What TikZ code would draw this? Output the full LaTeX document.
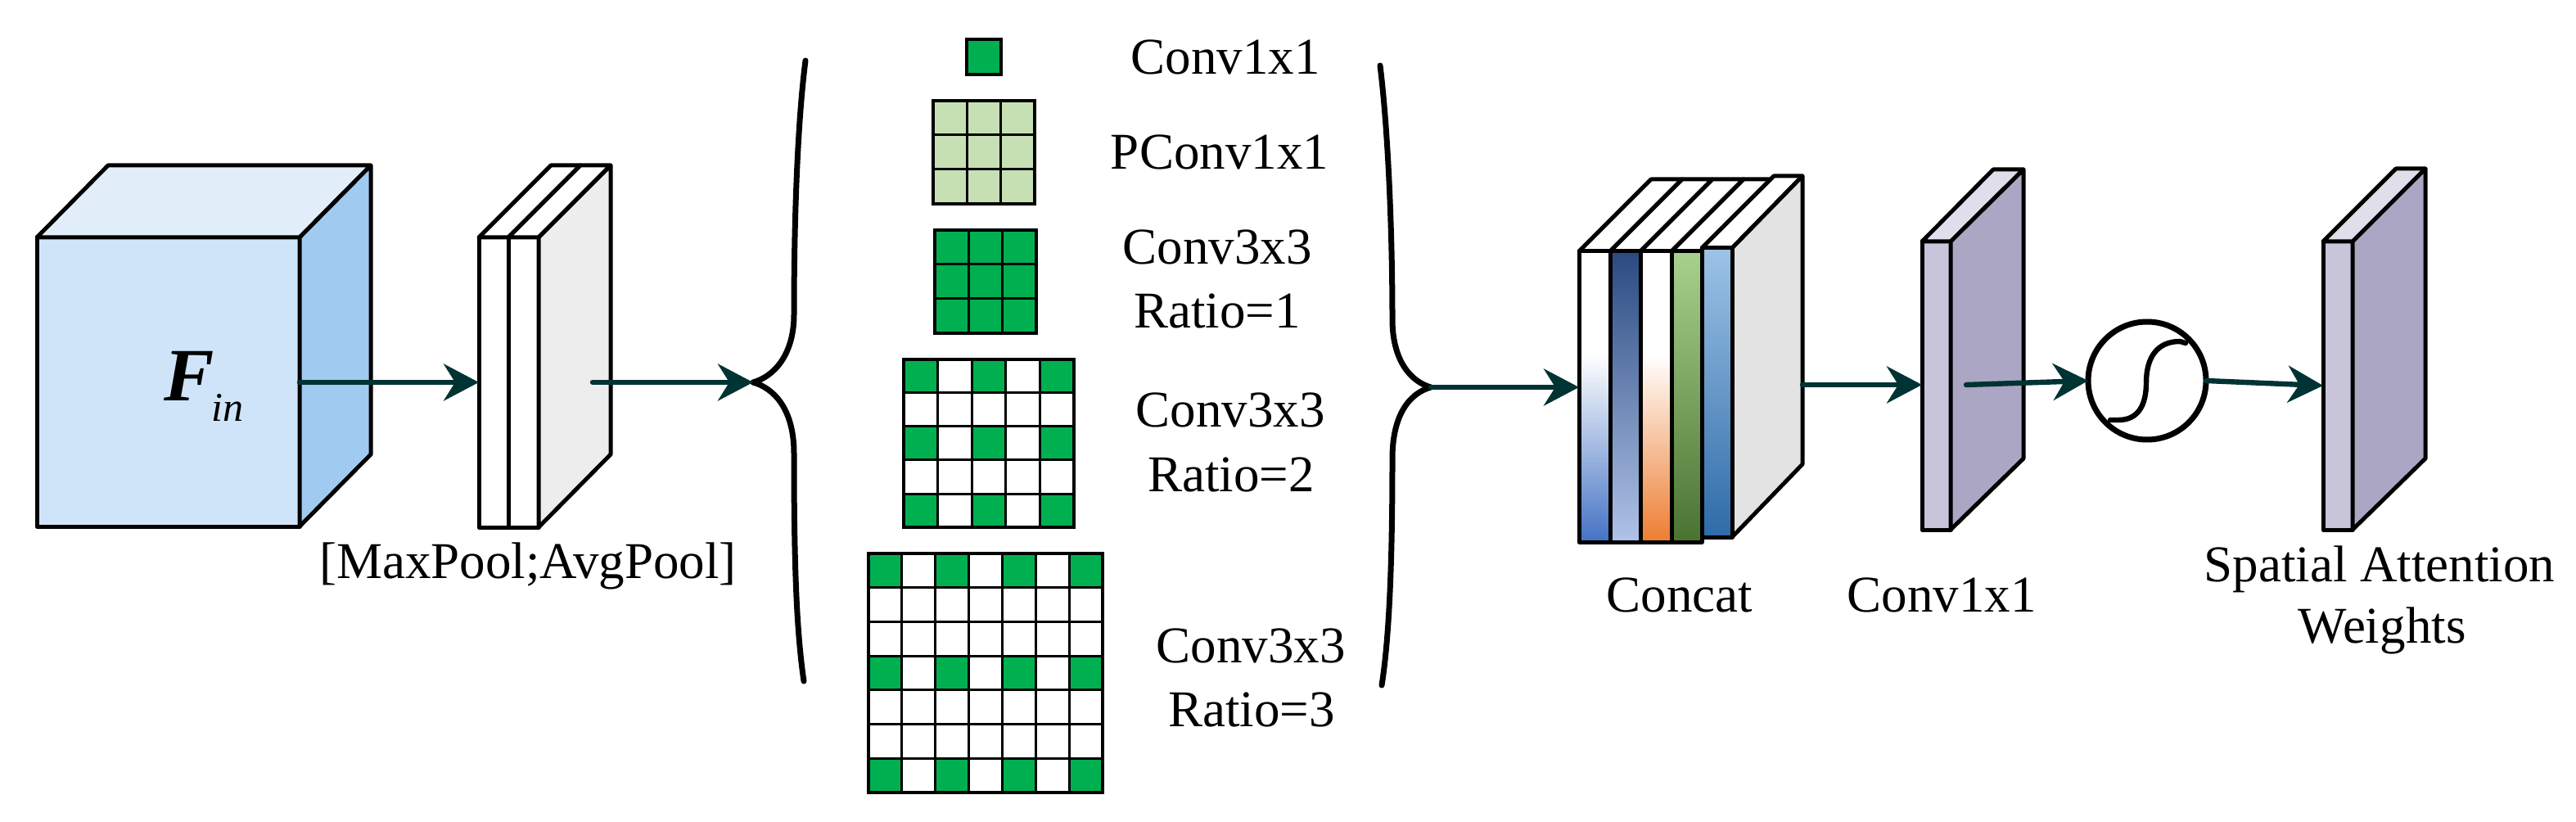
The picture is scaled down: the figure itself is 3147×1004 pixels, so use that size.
\documentclass[tikz,border=0pt]{standalone}
\usepackage{fontspec}
\setmainfont{Liberation Serif}
\usetikzlibrary{arrows.meta}
\definecolor{arrowc}{RGB}{0,51,51}
\definecolor{cubefront}{HTML}{CFE4F8}
\definecolor{cubetop}{HTML}{E1EEFA}
\definecolor{cuberight}{HTML}{A1CAF0}
\definecolor{slabside}{HTML}{EDEDED}
\definecolor{purp}{HTML}{9479C5}
\definecolor{gblue}{HTML}{8EA6B1}
\definecolor{catside}{HTML}{E3E3E3}
\definecolor{lavfront}{HTML}{C8C4DA}
\definecolor{lavright}{HTML}{ABA6C4}
\definecolor{lavtop}{HTML}{E0DEEA}
\definecolor{convgreen}{HTML}{00B050}
\definecolor{lightgreen}{HTML}{C6E0B4}
\definecolor{laya}{HTML}{4472C4}
\definecolor{laybtop}{HTML}{2A4A80}
\definecolor{laybmid}{HTML}{4C78C8}
\definecolor{laybbot}{HTML}{B0C3E8}
\definecolor{layc}{HTML}{ED7D31}
\definecolor{laydtop}{HTML}{A9D18E}
\definecolor{laydmid}{HTML}{76B04A}
\definecolor{laydbot}{HTML}{4A7230}
\definecolor{layetop}{HTML}{9DC3E6}
\definecolor{layemid}{HTML}{5E9DD6}
\definecolor{layebot}{HTML}{2E6BA8}
\begin{document}
\begin{tikzpicture}[x=0.25pt,y=-0.25pt,
  edge/.style={draw=black,line width=1.25pt,line join=round},
  conn/.style={draw=arrowc,line width=1.6pt,line cap=round,-{Stealth[length=10.75pt,width=11.25pt,inset=3.5pt]}},
  cellline/.style={draw=black,line width=0.75pt},
  cellborder/.style={draw=black,line width=0.9pt},
  lbl/.style={anchor=base,inner sep=0pt,font=\fontsize{15.75pt}{19pt}\selectfont},
  bracestyle/.style={draw=black,line width=1.75pt,line cap=round,line join=round}
]
\useasboundingbox (0,0) rectangle (3147,1004);

% ---------- input cube ----------
\filldraw[edge,fill=cubefront] (45,290) rectangle (366,643);
\filldraw[edge,fill=cubetop] (45,290) -- (132,202) -- (453,202) -- (366,290) -- cycle;
\filldraw[edge,fill=cuberight] (366,290) -- (453,202) -- (453,555) -- (366,643) -- cycle;
\node[anchor=base west,inner sep=0pt] (fin) at (200,490)
  {\fontsize{23pt}{26pt}\selectfont\bfseries\itshape F\kern-1pt\raisebox{-6pt}{\fontsize{12.5pt}{14pt}\selectfont\mdseries\itshape in}};

% ---------- pooled slab ----------
\shade[top color=white,middle color=purp,bottom color=white] (585,290) rectangle (621,644);
\shade[top color=white,middle color=gblue,bottom color=white] (621,290) rectangle (658,644);
\draw[edge] (585,290) rectangle (621,644);
\draw[edge] (621,290) rectangle (658,644);
\filldraw[edge,fill=white] (585,290) -- (673,202) -- (709,202) -- (621,290) -- cycle;
\filldraw[edge,fill=white] (621,290) -- (709,202) -- (746,202) -- (658,290) -- cycle;
\filldraw[edge,fill=slabside] (658,290) -- (746,202) -- (746,555) -- (658,644) -- cycle;
\node[lbl] (pooltxt) at (645,706) {[MaxPool;AvgPool]};

% ---------- braces ----------
\coordinate (braceLtip) at (920,467);
\coordinate (braceRtip) at (1748,473);
\draw[bracestyle] (984,74) .. controls (973,160) and (970,290) .. (970,384)
  .. controls (970,434) and (945,460) .. (braceLtip)
  .. controls (945,474) and (970,499) .. (970,554)
  .. controls (970,690) and (973,770) .. (982,832);
\draw[bracestyle] (1686,80) .. controls (1697,170) and (1701,300) .. (1701,390)
  .. controls (1701,440) and (1723,466) .. (braceRtip)
  .. controls (1723,480) and (1701,505) .. (1701,560)
  .. controls (1701,690) and (1697,780) .. (1688,837);

% ---------- kernels ----------
% Conv1x1
\filldraw[cellborder,fill=convgreen] (1181,48) rectangle (1223,91);
% PConv1x1
\fill[lightgreen] (1140,123) rectangle (1264,249);
\foreach \i in {1,2}{
  \draw[cellline] (1140+\i*41.33,123) -- (1140+\i*41.33,249);
  \draw[cellline] (1140,123+\i*42) -- (1264,123+\i*42);}
\draw[cellborder] (1140,123) rectangle (1264,249);
% Conv3x3 ratio 1
\fill[convgreen] (1142,281) rectangle (1266,407);
\foreach \i in {1,2}{
  \draw[cellline] (1142+\i*41.33,281) -- (1142+\i*41.33,407);
  \draw[cellline] (1142,281+\i*42) -- (1266,281+\i*42);}
\draw[cellborder] (1142,281) rectangle (1266,407);
% Conv3x3 ratio 2
\foreach \r in {0,2,4}{\foreach \c in {0,2,4}{
  \fill[convgreen] (1104+\c*41.6,439+\r*41) rectangle ++(41.6,41);}}
\foreach \i in {1,...,4}{
  \draw[cellline] (1104+\i*41.6,439) -- (1104+\i*41.6,644);
  \draw[cellline] (1104,439+\i*41) -- (1312,439+\i*41);}
\draw[cellborder] (1104,439) rectangle (1312,644);
% Conv3x3 ratio 3
\foreach \r in {0,3,6}{\foreach \c in {0,2,4,6}{
  \fill[convgreen] (1061+\c*40.857,676+\r*41.714) rectangle ++(40.857,41.714);}}
\foreach \i in {1,...,6}{
  \draw[cellline] (1061+\i*40.857,676) -- (1061+\i*40.857,968);
  \draw[cellline] (1061,676+\i*41.714) -- (1347,676+\i*41.714);}
\draw[cellborder] (1061,676) rectangle (1347,968);

\node[lbl] (t1) at (1497,91) {Conv1x1};
\node[lbl] (t2) at (1490,207) {PConv1x1};
\node[lbl] (t3a) at (1487,323) {Conv3x3};
\node[lbl] (t3b) at (1487,401) {Ratio=1};
\node[lbl] (t4a) at (1503,522) {Conv3x3};
\node[lbl] (t4b) at (1504,600) {Ratio=2};
\node[lbl] (t5a) at (1528,809) {Conv3x3};
\node[lbl] (t5b) at (1529,887) {Ratio=3};

% ---------- concat block ----------
\foreach \xa/\xb in {1929/1967,1967/2004,2004/2042,2042/2079}{
  \filldraw[edge,fill=white] (\xa,307) -- (\xa+88,219) -- (\xb+88,219) -- (\xb,307) -- cycle;}
\filldraw[edge,fill=white] (2079,303) -- (2167,215) -- (2202,215) -- (2116,303) -- cycle;
\filldraw[edge,fill=catside] (2116,303) -- (2202,215) -- (2202,567) -- (2116,656) -- cycle;
\shade[top color=layetop,middle color=layemid,bottom color=layebot] (2079,303) rectangle (2116,656);
\draw[edge] (2079,303) rectangle (2116,656);
\fill[white] (1929,307) rectangle (1967,433);
\shade[top color=white,bottom color=laya] (1929,433) rectangle (1967,662);
\shade[top color=laybtop,middle color=laybmid,bottom color=laybbot] (1967,307) rectangle (2004,662);
\fill[white] (2004,307) rectangle (2042,433);
\shade[top color=white,bottom color=layc] (2004,433) rectangle (2042,662);
\shade[top color=laydtop,middle color=laydmid,bottom color=laydbot] (2042,307) rectangle (2079,662);
\foreach \xa/\xb in {1929/1967,1967/2004,2004/2042,2042/2079}{
  \draw[edge] (\xa,307) rectangle (\xb,662);}
\node[lbl] (cattxt) at (2052,747) {Concat};

% ---------- conv1x1 slab ----------
\filldraw[edge,fill=lavfront] (2348,295) rectangle (2383,647);
\filldraw[edge,fill=lavtop] (2348,295) -- (2435,207) -- (2472,207) -- (2383,295) -- cycle;
\filldraw[edge,fill=lavright] (2383,295) -- (2472,207) -- (2472,560) -- (2383,647) -- cycle;
\node[lbl] (convtxt) at (2372,747) {Conv1x1};

% ---------- sigmoid ----------
\node[circle,draw=black,line width=1.75pt,minimum size=36pt,inner sep=0pt,outer sep=0pt] (sig) at (2623,465) {};
\draw[line width=1.6pt,line cap=round] (2578,513) -- (2588,513)
  .. controls (2612,513) and (2622,495) .. (2622,467)
  .. controls (2622,437) and (2635,417) .. (2663,417) -- (2670,419);

% ---------- attention weights slab ----------
\filldraw[edge,fill=lavfront] (2838,295) rectangle (2874,647);
\filldraw[edge,fill=lavtop] (2838,295) -- (2927,206) -- (2963,206) -- (2874,295) -- cycle;
\filldraw[edge,fill=lavright] (2874,295) -- (2963,206) -- (2963,560) -- (2874,647) -- cycle;
\node[lbl] (atttxt1) at (2907,710) {Spatial Attention};
\node[lbl] (atttxt2) at (2910,785) {Weights};

% ---------- connectors ----------
\coordinate (cubeR) at (366,467);
\coordinate (poolL) at (585,467);
\coordinate (poolOut) at (724,467);
\coordinate (catL) at (1929,473);
\coordinate (catR) at (2202,470);
\coordinate (convL) at (2348,470);
\coordinate (convOut) at (2402,470);
\coordinate (attL) at (2838,471);
\draw[conn] (cubeR) -- (poolL);
\draw[conn] (poolOut) -- (braceLtip);
\draw[conn] (braceRtip) -- (catL);
\draw[conn] (catR) -- (convL);
\draw[conn] (convOut) -- (sig.west);
\draw[conn] (sig.east) -- (attL);
\end{tikzpicture}
\end{document}
